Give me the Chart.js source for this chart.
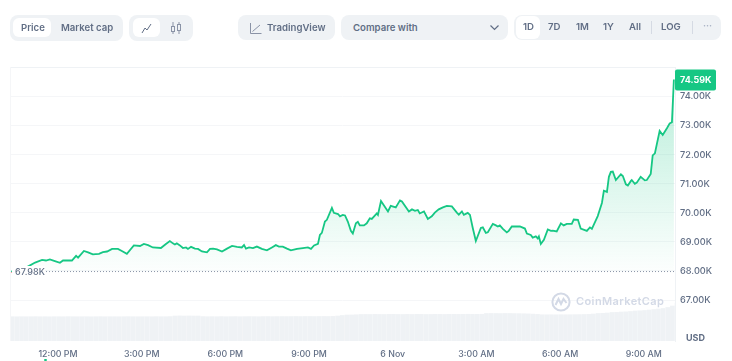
<!DOCTYPE html>
<html>
<head>
<meta charset="utf-8">
<script src="https://cdn.jsdelivr.net/npm/chart.js@4"></script>
<style>
  html, body { margin: 0; padding: 0; background: #fff; }
  body { width: 732px; height: 361px; overflow: hidden; position: relative; font-family: Inter, sans-serif; }
  canvas { position: absolute; left: 0; top: 0; }
  .box { position: absolute; background: #eff2f5; border-radius: 8px; }
  .on { position: absolute; background: #fff; border-radius: 6px; }
  .t { position: absolute; font-size: 9.6px; font-weight: 600; color: #616e85; line-height: 14px; white-space: nowrap; }
  .sep { position: absolute; width: 1px; background: #d5dae3; }
  svg { position: absolute; }
</style>
</head>
<body>
<canvas id="price-chart" width="732" height="361"></canvas>

<div class="box" style="left:10px;top:15px;width:113px;height:26px"></div>
<div class="on" style="left:13px;top:18px;width:38px;height:19px"></div>
<div class="t" style="left:21px;top:21px">Price</div>
<div class="t" style="left:61px;top:21px">Market cap</div>

<div class="box" style="left:129px;top:15px;width:64px;height:26px"></div>
<div class="on" style="left:133px;top:18px;width:27px;height:19px"></div>
<svg style="left:141px;top:23px" width="11" height="11" fill="none" stroke="#616e85"><path d="M1 10L4 5L6 7L10 1"/></svg>
<svg style="left:170px;top:22px" width="12" height="12" fill="none" stroke="#8a93a6"><path d="M3 0V12M9 0V12"/><rect x="1.5" y="4.5" width="3" height="5" fill="#eff2f5"/><rect x="7.5" y="2.5" width="3" height="6" fill="#eff2f5"/></svg>

<div class="box" style="left:238px;top:15px;width:97px;height:25px"></div>
<svg style="left:250px;top:22px" width="12" height="12" fill="none" stroke="#8a93a6"><path d="M0.5 1V11.5H11.5M2.5 9.5L10 3"/></svg>
<div class="t" style="left:267px;top:21px">TradingView</div>

<div class="box" style="left:341px;top:15px;width:167px;height:25px"></div>
<div class="t" style="left:353px;top:21px">Compare with</div>
<svg style="left:490px;top:25px" width="9" height="6" fill="none" stroke="#616e85" stroke-width="1.2"><path d="M0.5 0.5L4.5 4.5L8.5 0.5"/></svg>

<div class="box" style="left:514px;top:15px;width:207px;height:25px"></div>
<div class="on" style="left:516px;top:16px;width:24px;height:23px"></div>
<div class="t" style="left:523px;top:20px">1D</div>
<div class="t" style="left:548px;top:20px">7D</div>
<div class="t" style="left:576px;top:20px">1M</div>
<div class="t" style="left:603px;top:20px">1Y</div>
<div class="t" style="left:629px;top:20px">All</div>
<div class="sep" style="left:651px;top:21px;height:13px"></div>
<div class="t" style="left:661px;top:20px">LOG</div>
<div class="sep" style="left:692px;top:21px;height:13px"></div>
<div class="t" style="left:703px;top:19px;color:#a6b0c3">···</div>

<svg style="left:551px;top:292px" width="20" height="20" fill="none" stroke="#d3d9e6" stroke-width="2"><circle cx="10" cy="10" r="8.6"/><path d="M4.5 13L7.5 7L10 12L12.5 7L15.5 11"/></svg>
<div class="t" style="left:576px;top:294px;font-size:11px;letter-spacing:0.4px;color:#d3d9e6">CoinMarketCap</div>
<div style="position:absolute;left:44px;top:359px;width:3px;height:2px;background:#16c784;border-radius:1px"></div>

<script>
const priceHours = [
  10.32, 10.71, 10.92, 11.18, 11.43, 11.57, 11.71, 11.89, 12.07, 12.18,
  12.50, 12.65, 12.72, 12.93, 13.08, 13.25, 13.47, 13.61, 13.76, 13.94,
  14.15, 14.29, 14.47, 14.72, 14.94, 15.08, 15.23, 15.40, 15.69, 15.87,
  16.01, 16.12, 16.19, 16.26, 16.37, 16.48, 16.59, 16.66, 16.77, 16.91,
  17.02, 17.16, 17.34, 17.45, 17.56, 17.70, 17.88, 18.06, 18.24, 18.42,
  18.59, 18.67, 18.74, 18.85, 18.99, 19.13, 19.31, 19.49, 19.67, 19.81,
  19.92, 20.06, 20.21, 20.35, 20.57, 20.78, 20.96, 21.07, 21.18, 21.32,
  21.39, 21.46, 21.57, 21.64, 21.82, 21.89, 22.04, 22.11, 22.21, 22.29,
  22.39, 22.50, 22.57, 22.68, 22.75, 22.82, 22.97, 23.07, 23.18, 23.25,
  23.43, 23.47, 23.58, 23.83, 23.93, 24.11, 24.26, 24.33, 24.58, 24.69,
  24.80, 24.90, 24.97, 25.12, 25.26, 25.40, 25.51, 25.65, 25.80, 25.94,
  26.12, 26.30, 26.37, 26.48, 26.55, 26.69, 26.77, 26.87, 26.98, 27.16,
  27.23, 27.34, 27.41, 27.59, 27.70, 27.77, 27.84, 27.95, 28.09, 28.16,
  28.27, 28.56, 28.74, 28.81, 28.95, 29.02, 29.13, 29.20, 29.24, 29.31,
  29.42, 29.56, 29.67, 29.74, 29.88, 30.03, 30.13, 30.24, 30.42, 30.49,
  30.64, 30.74, 30.96, 31.07, 31.14, 31.35, 31.50, 31.57, 31.68, 31.75,
  31.82, 31.89, 32.00, 32.18, 32.25, 32.36, 32.43, 32.54, 32.57, 32.68,
  32.75, 32.89, 33.04, 33.11, 33.25, 33.32, 33.40, 33.57, 33.68, 33.83,
  33.93, 34.01, 34.08,
]
// price in thousands of USD
const prices = [
  67.98, 68.03, 68.15, 68.29, 68.38, 68.36, 68.40, 68.34, 68.28, 68.36,
  68.36, 68.52, 68.46, 68.69, 68.64, 68.57, 68.59, 68.65, 68.67, 68.76,
  68.76, 68.69, 68.59, 68.88, 68.86, 68.93, 68.89, 68.81, 68.79, 68.93,
  69.03, 68.95, 68.91, 68.95, 68.88, 68.79, 68.81, 68.76, 68.83, 68.77,
  68.76, 68.67, 68.64, 68.76, 68.77, 68.74, 68.67, 68.77, 68.86, 68.83,
  68.81, 68.89, 68.77, 68.81, 68.79, 68.84, 68.76, 68.71, 68.81, 68.89,
  68.84, 68.84, 68.77, 68.71, 68.76, 68.79, 68.81, 68.76, 68.88, 68.93,
  69.24, 69.31, 69.70, 69.76, 70.17, 70.00, 69.96, 69.88, 69.93, 69.91,
  69.70, 69.38, 69.29, 69.64, 69.69, 69.57, 69.57, 69.64, 69.81, 69.79,
  69.98, 69.93, 70.41, 70.05, 70.24, 70.19, 70.43, 70.39, 70.05, 70.12,
  70.07, 70.10, 69.98, 70.05, 69.79, 69.88, 70.01, 70.12, 70.19, 70.24,
  70.22, 70.01, 69.94, 70.05, 69.93, 70.00, 69.93, 69.48, 69.03, 69.48,
  69.50, 69.31, 69.33, 69.62, 69.57, 69.53, 69.57, 69.45, 69.33, 69.38,
  69.53, 69.53, 69.46, 69.29, 69.24, 69.15, 69.19, 69.12, 69.19, 68.93,
  69.07, 69.43, 69.38, 69.39, 69.36, 69.64, 69.57, 69.62, 69.62, 69.77,
  69.76, 69.46, 69.38, 69.50, 69.45, 69.89, 70.34, 70.76, 70.72, 71.24,
  71.41, 71.42, 71.13, 71.33, 71.27, 70.98, 70.94, 71.10, 71.13, 71.00,
  71.04, 71.24, 71.12, 71.13, 71.34, 71.98, 72.05, 72.82, 72.68, 72.91,
  73.08, 73.12, 74.59,
]
// one bar every 10 minutes, billions of USD
const volumes = [
  48.6, 48.4, 48.6, 48.5, 48.6, 48.7, 48.5, 48.6, 48.4, 48.6,
  48.6, 48.5, 48.7, 48.6, 48.5, 48.6, 48.6, 48.4, 48.6, 48.7,
  48.5, 48.6, 48.6, 48.5, 48.6, 48.7, 48.6, 48.5, 48.6, 48.6,
  48.5, 48.7, 48.6, 48.6, 48.8, 50.0, 50.2, 50.0, 50.1, 50.0,
  50.0, 48.8, 48.6, 48.7, 48.6, 48.8, 48.6, 48.7, 48.8, 48.6,
  48.7, 48.8, 48.7, 48.6, 48.8, 48.9, 48.7, 48.8, 48.9, 48.8,
  48.9, 49.0, 48.9, 49.0, 49.0, 48.9, 49.0, 49.1, 49.0, 49.2,
  50.0, 51.0, 52.0, 52.1, 52.5, 53.0, 53.1, 53.0, 53.2, 53.1,
  53.0, 53.2, 53.3, 53.1, 53.0, 53.2, 53.1, 53.3, 53.2, 53.0,
  53.1, 53.3, 53.2, 53.1, 53.3, 53.4, 53.2, 53.3, 53.5, 53.3,
  53.4, 53.5, 55.0, 55.1, 55.0, 54.9, 55.1, 55.0, 54.8, 54.7,
  54.5, 54.2, 53.8, 53.2, 52.5, 52.4, 52.5, 52.4, 52.6, 52.5,
  52.6, 52.7, 52.8, 53.0, 53.2, 54.0, 55.0, 55.4, 56.0, 57.0,
  57.2, 58.0, 58.3, 59.0, 60.0, 60.4, 61.0, 62.0, 63.0, 64.0,
  65.0, 67.0, 70.0, 76.0,
]
const priceTicks = [67, 68, 69, 70, 71, 72, 73, 74]
const timeTicks = [12, 15, 18, 21, 24, 27, 30, 33]
const timeLabels = ['12:00 PM', '3:00 PM', '6:00 PM', '9:00 PM', '6 Nov', '3:00 AM', '6:00 AM', '9:00 AM']
const openPrice = 67.98
const lastPrice = 74.59

const HOUR_MIN = 10.28
const HOUR_MAX = 34.12
const UP_COLOR = '#16c784'
const LABEL_COLOR = '#616e85'
const LINE_COLOR = '#eff2f5'
const FONT = 'Inter, sans-serif'

// Fill fades out towards the open price
const areaFill = context => {
  const { ctx, scales, chartArea } = context.chart
  if (!chartArea) return 'transparent'
  const g = ctx.createLinearGradient(0, scales.y.getPixelForValue(lastPrice), 0, scales.y.getPixelForValue(openPrice))
  g.addColorStop(0, 'rgba(22,199,132,0.30)')
  g.addColorStop(1, 'rgba(22,199,132,0.01)')
  return g
}

const priceLabels = {
  id: 'priceLabels',
  afterDatasetsDraw(chart) {
    const { ctx, scales, chartArea } = chart
    const openY = Math.round(scales.y.getPixelForValue(openPrice))
    const lastY = scales.y.getPixelForValue(lastPrice)
    ctx.save()
    // frame
    ctx.fillStyle = LINE_COLOR
    ctx.fillRect(chartArea.left, chartArea.top, chartArea.width, 1)
    ctx.fillStyle = '#f5f6f8'
    ctx.fillRect(chartArea.left, chartArea.top, 1, chartArea.height)
    // open price
    ctx.fillStyle = '#fff'
    ctx.fillRect(12, openY - 6, 33, 12)
    ctx.fillStyle = '#f0a0a5'
    ctx.fillRect(11, openY, 1, 1)
    ctx.font = '500 9px ' + FONT
    ctx.fillStyle = LABEL_COLOR
    ctx.textBaseline = 'middle'
    ctx.textAlign = 'left'
    ctx.fillText(openPrice.toFixed(2) + 'K', 15, openY + 0.5)
    // last price tag
    ctx.fillStyle = UP_COLOR
    ctx.beginPath()
    ctx.roundRect(675, lastY - 10, 41, 21, 2)
    ctx.fill()
    ctx.font = '700 9px ' + FONT
    ctx.fillStyle = '#fff'
    ctx.fillText(lastPrice.toFixed(2) + 'K', 680, lastY + 0.5)
    // currency
    ctx.font = '700 9px ' + FONT
    ctx.fillStyle = LABEL_COLOR
    ctx.fillText('USD', 686, 338)
    ctx.restore()
  },
}

const chart = new Chart(document.getElementById('price-chart').getContext('2d'), {
  type: 'line',
  data: {
    datasets: [
      {
        data: priceHours.map((h, i) => ({ x: h, y: prices[i] })),
        borderColor: UP_COLOR,
        borderWidth: 1.8,
        backgroundColor: areaFill,
        fill: { value: openPrice },
        pointRadius: 0,
        tension: 0,
        order: 1,
      },
      {
        data: [{ x: HOUR_MIN, y: openPrice }, { x: HOUR_MAX, y: openPrice }],
        borderColor: '#8a93a6',
        borderWidth: 1,
        borderDash: [1, 2],
        pointRadius: 0,
        fill: false,
        order: 2,
      },
      {
        type: 'bar',
        data: volumes.map((v, i) => ({ x: HOUR_MIN + 0.08 + i / 6, y: v })),
        yAxisID: 'volume',
        backgroundColor: LINE_COLOR,
        barThickness: 4,
        order: 3,
      },
    ],
  },
  plugins: [priceLabels],
  options: {
    responsive: false,
    animation: false,
    events: [],
    layout: { padding: { left: 10, top: 67, right: 0, bottom: 0 } },
    plugins: { legend: { display: false }, tooltip: { enabled: false } },
    scales: {
      x: {
        type: 'linear',
        min: HOUR_MIN,
        max: HOUR_MAX,
        offset: false,
        grid: { display: false, drawTicks: false },
        border: { display: false },
        afterBuildTicks: axis => {
          axis.ticks = timeTicks.map(value => ({ value }))
        },
        afterFit: axis => {
          axis.height = 20
        },
        ticks: {
          autoSkip: false,
          maxRotation: 0,
          padding: 8,
          color: LABEL_COLOR,
          font: { family: FONT, size: 8.8, weight: '500' },
          callback: value => timeLabels[timeTicks.indexOf(value)],
        },
      },
      y: {
        position: 'right',
        min: 65.59,
        max: 75.02,
        grid: { color: '#f5f6f8', drawTicks: false },
        border: { color: LINE_COLOR },
        afterBuildTicks: axis => {
          axis.ticks = priceTicks.map(value => ({ value }))
        },
        afterFit: axis => {
          axis.width = 57
        },
        ticks: {
          padding: 5,
          color: LABEL_COLOR,
          font: { family: FONT, size: 9.2, weight: '500' },
          callback: value => value.toFixed(2) + 'K',
        },
      },
      volume: { display: false, min: 0, max: 548 },
    },
  },
})
</script>
</body>
</html>
